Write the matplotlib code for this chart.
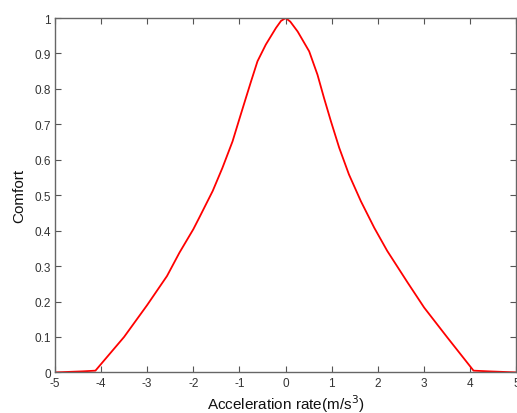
import numpy as np
import matplotlib
matplotlib.use("Agg")
import matplotlib.pyplot as plt

# values (jerk vs comfort)
jerk = [-5.0, -4.4, -4.12, -3.5, -3.0, -2.57, -2.3, -2.0, -1.87, -1.58,
        -1.37, -1.15, -1.0, -0.86, -0.75, -0.61, -0.43, -0.21, -0.1, 0.0,
        0.1, 0.26, 0.51, 0.69, 0.83, 0.98, 1.16, 1.37, 1.63, 1.92,
        2.2, 2.64, 3.0, 3.5, 4.07, 4.4, 5.0]
comfort = [0.0, 0.003, 0.005, 0.10, 0.19, 0.272, 0.338, 0.404, 0.437, 0.512,
           0.577, 0.652, 0.716, 0.775, 0.821, 0.878, 0.925, 0.972, 0.992, 1.0,
           0.99, 0.962, 0.906, 0.84, 0.775, 0.709, 0.634, 0.559, 0.483, 0.408,
           0.343, 0.254, 0.183, 0.099, 0.005, 0.003, 0.0]

xticks = np.arange(-5, 6, 1)
yticks = np.arange(0, 1.01, 0.1)

plt.rcParams['font.family'] = ['Liberation Sans', 'DejaVu Sans']

fig = plt.figure(figsize=(5.17, 4.14), dpi=100)
ax = fig.add_axes([0.106, 0.098, 0.893, 0.856])

ax.plot(jerk, comfort, color='red', lw=1.3)

ax.set_xlim(-5, 5)
ax.set_ylim(0, 1)
ax.set_xticks(xticks)
ax.set_yticks(yticks)
ax.set_xticklabels([f'{t:d}' for t in xticks])
ax.set_yticklabels(['0'] + [f'{t:.1f}' for t in yticks[1:-1]] + ['1'])

ax.tick_params(direction='in', top=True, right=True, length=4, width=0.8,
               colors='#555555', labelcolor='#333333', labelsize=8.5, pad=3)
for s in ax.spines.values():
    s.set_color('#666666')
    s.set_linewidth(1.0)

ax.set_xlabel('Acceleration rate(m/s$^3$)', fontsize=11, color='#111111', labelpad=3)
ax.set_ylabel('Comfort', fontsize=11, color='#111111', labelpad=6)

fig.savefig('out.png', dpi=100)
